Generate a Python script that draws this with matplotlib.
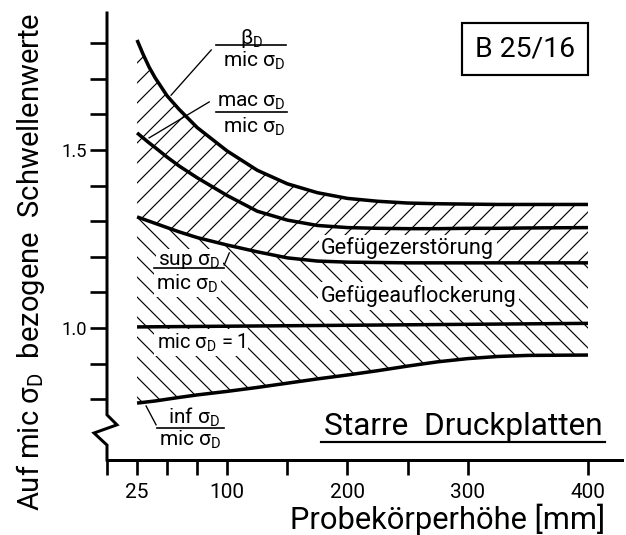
import matplotlib
matplotlib.use('Agg')
import matplotlib.pyplot as plt

plt.rcParams['font.family'] = ['Roboto', 'DejaVu Sans']
plt.rcParams['mathtext.fontset'] = 'custom'
plt.rcParams['mathtext.rm'] = 'Roboto'
plt.rcParams['mathtext.it'] = 'Roboto'
plt.rcParams['mathtext.bf'] = 'Roboto'
plt.rcParams['mathtext.default'] = 'regular'
plt.rcParams['hatch.linewidth'] = 0.7

# ---- data ----
height = [25, 30, 35, 40, 50, 60, 75, 100, 125, 150, 175, 200, 225, 250, 275, 300, 325, 350, 400]
beta_D = [1.809, 1.769, 1.733, 1.703, 1.652, 1.614, 1.563, 1.497, 1.443, 1.405, 1.380, 1.364, 1.356, 1.351, 1.349, 1.348, 1.347, 1.347, 1.347]
mac_D = [1.548, 1.534, 1.520, 1.507, 1.480, 1.455, 1.422, 1.372, 1.328, 1.303, 1.288, 1.282, 1.280, 1.279, 1.279, 1.280, 1.280, 1.281, 1.282]
sup_D = [1.312, 1.306, 1.300, 1.294, 1.282, 1.270, 1.254, 1.233, 1.214, 1.197, 1.188, 1.185, 1.184, 1.183, 1.183, 1.183, 1.183, 1.183, 1.183]
inf_D = [0.789, 0.791, 0.793, 0.795, 0.800, 0.805, 0.812, 0.822, 0.833, 0.845, 0.857, 0.868, 0.880, 0.893, 0.905, 0.914, 0.920, 0.923, 0.924]
mic_x = [25, 400]
mic_D = [1.003, 1.013]

xticks = [0, 25, 50, 75, 100, 150, 200, 250, 300, 400]
xtick_labels = ['', '25', '', '', '100', '', '200', '', '300', '400']
ytick_major = [1.0, 1.5]
ytick_labels = ['1.0', '1.5']
ytick_minor = [0.8, 0.9, 1.1, 1.2, 1.3, 1.4, 1.6, 1.7, 1.8]

DPI = 120
fig = plt.figure(figsize=(626 / DPI, 535 / DPI), dpi=DPI)
ax = fig.add_axes([107 / 626, 1 - 460 / 535, (622 - 107) / 626, (460 - 13) / 535])
ax.set_xlim(0, 428.3)
ax.set_ylim(0.6292, 1.8848)

for s in ['top', 'right', 'left']:
    ax.spines[s].set_visible(False)
ax.spines['bottom'].set_linewidth(1.8)

# left axis with break
ax.plot([0, 0, 8.3, -10.8, 0, 0], [1.8848, 0.756, 0.728, 0.705, 0.671, 0.6292],
        color='black', lw=1.8, clip_on=False, solid_joinstyle='miter', zorder=5)

ax.set_xticks(xticks)
ax.set_xticklabels(xtick_labels, fontsize=12.5)
ax.set_yticks(ytick_major)
ax.set_yticklabels(ytick_labels, fontsize=11)
ax.set_yticks(ytick_minor, minor=True)
ax.tick_params(axis='x', which='both', direction='out', length=9, width=1.6, pad=5)
ax.tick_params(axis='y', which='both', direction='out', length=10, width=1.6, pad=2)

# hatched bands
ax.fill_between(height, sup_D, beta_D, facecolor='none', edgecolor='black', hatch='//', linewidth=0, zorder=1)
ax.fill_between(height, inf_D, sup_D, facecolor='none', edgecolor='black', hatch='\\\\', linewidth=0, zorder=1)

# curves
for y in [beta_D, mac_D, sup_D, inf_D]:
    ax.plot(height, y, color='black', lw=2.1, solid_capstyle='butt', solid_joinstyle='round', zorder=8)
ax.plot(mic_x, mic_D, color='black', lw=2.1, solid_capstyle='butt', zorder=8)

wb = dict(facecolor='white', edgecolor='none', pad=1.5)
sD = 'σ$_\\mathrm{D}$'


def frac(xn, yn, xd, yd, x0, x1, yb, num, den, bg=False):
    kw = dict(ha='center', va='center', fontsize=12.5, zorder=6)
    if bg:
        kw['bbox'] = wb
    ax.text(xn, yn, num, **kw)
    ax.text(xd, yd, den, **kw)
    ax.plot([x0, x1], [yb, yb], color='black', lw=1.0, zorder=7, clip_on=False)


frac(120, 1.812, 122.5, 1.750, 90.8, 149.2, 1.795, 'β$_\\mathrm{D}$', 'mic ' + sD)
frac(120, 1.632, 122.5, 1.565, 90.8, 150.0, 1.607, 'mac ' + sD, 'mic ' + sD)
frac(68.3, 1.188, 66.7, 1.124, 39.0, 97.5, 1.169, 'sup ' + sD, 'mic ' + sD, bg=True)
frac(72.5, 0.750, 69.2, 0.685, 41.7, 97.5, 0.719, 'inf ' + sD, 'mic ' + sD)

# leader lines
ax.plot([86.7, 53.3], [1.781, 1.654], color='black', lw=0.8, zorder=3)
ax.plot([85.0, 35.0], [1.635, 1.534], color='black', lw=0.8, zorder=3)
ax.plot([97.5, 101.7], [1.177, 1.211], color='black', lw=0.8, zorder=7)
ax.plot([32.5, 40.8], [0.781, 0.728], color='black', lw=0.8, zorder=3)

ax.text(78.3, 0.958, 'mic ' + sD + ' = 1', ha='center', va='center', fontsize=12, bbox=wb, zorder=6)
ax.text(250, 1.224, 'Gefügezerstörung', ha='center', va='center', fontsize=13, bbox=wb, zorder=6)
ax.text(259, 1.090, 'Gefügeauflockerung', ha='center', va='center', fontsize=13, bbox=wb, zorder=6)

ax.text(296.7, 0.722, 'Starre  Druckplatten', ha='center', va='center', fontsize=19, zorder=6)
ax.plot([178, 414], [0.680, 0.680], color='black', lw=1.3)

ax.text(347.5, 1.784, 'B 25/16', ha='center', va='center', fontsize=17,
        bbox=dict(boxstyle='square,pad=0.45', facecolor='white', edgecolor='black', linewidth=1.3))

fig.text(31 / 626, 1 - 262 / 535, 'Auf mic ' + sD + '  bezogene  Schwellenwerte',
         rotation=90, ha='center', va='center', fontsize=17.5)
fig.text(448 / 626, 1 - 519 / 535, 'Probekörperhöhe [mm]', ha='center', va='center', fontsize=18.5)

fig.savefig('out.png', dpi=DPI, facecolor='white')
